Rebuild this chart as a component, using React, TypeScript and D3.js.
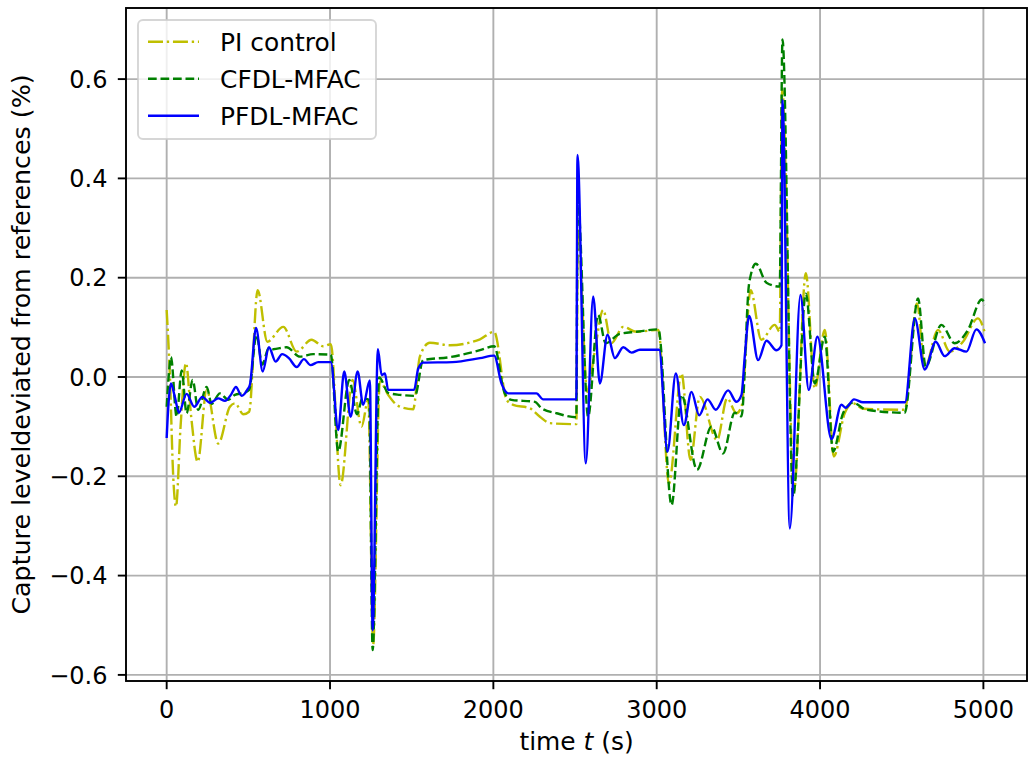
import React from "react";
import * as d3 from "d3";

const xTicks = [0, 1000, 2000, 3000, 4000, 5000];
const yTicks = [-0.6, -0.4, -0.2, 0.0, 0.2, 0.4, 0.6];
const seriesNames = ["PI control", "CFDL-MFAC", "PFDL-MFAC"];

const piControl: [number, number][] = [
  [0, 0.135], [20, 0.0], [40, -0.2], [57, -0.261], [85, -0.1], [118, 0.028], [150, -0.08],
  [190, -0.171], [245, -0.026], [316, -0.134], [387, -0.06], [418, -0.053], [470, -0.075],
  [505, -0.07], [557, 0.175], [616, 0.071], [714, 0.101], [796, 0.051], [887, 0.075],
  [958, 0.062], [1005, 0.066], [1065, -0.218], [1138, -0.006], [1193, -0.1], [1234, -0.046],
  [1264, -0.54], [1305, -0.009], [1356, -0.036], [1417, -0.058], [1509, -0.065], [1550, 0.041],
  [1611, 0.069], [1734, 0.064], [1918, 0.076], [2005, 0.091], [2081, -0.046], [2121, -0.056],
  [2223, -0.063], [2285, -0.08], [2346, -0.093], [2508, -0.095], [2517, 0.3], [2575, -0.03],
  [2620, 0.05], [2672, 0.135], [2723, 0.068], [2795, 0.101], [2876, 0.091], [3010, 0.095],
  [3075, -0.215], [3152, 0.007], [3207, -0.167], [3264, -0.04], [3370, -0.127], [3431, -0.043],
  [3488, -0.073], [3519, -0.06], [3575, 0.175], [3640, 0.075], [3723, 0.105], [3753, 0.091],
  [3768, 0.58], [3840, -0.23], [3913, 0.209], [3968, -0.023], [4029, 0.095], [4084, -0.16],
  [4151, -0.073], [4202, -0.053], [4263, -0.064], [4518, -0.066], [4594, 0.148], [4641, 0.018],
  [4722, 0.095], [4794, 0.051], [4875, 0.071], [4967, 0.118], [5010, 0.088],
];

const cfdlMfac: [number, number][] = [
  [0, -0.06], [12, 0.0], [26, 0.04], [61, -0.08], [92, 0.013], [122, -0.073], [159, -0.006],
  [193, -0.066], [245, -0.02], [275, -0.054], [326, -0.033], [377, -0.046], [418, -0.036],
  [469, -0.032], [505, -0.026], [550, 0.085], [585, 0.025], [625, 0.058], [652, 0.056],
  [734, 0.06], [816, 0.041], [897, 0.046], [1005, 0.045], [1050, -0.15], [1118, -0.006],
  [1165, -0.075], [1199, -0.043], [1240, -0.046], [1261, -0.55], [1301, -0.001], [1356, -0.032],
  [1428, -0.036], [1520, -0.038], [1570, 0.034], [1734, 0.04], [1918, 0.054], [2005, 0.062],
  [2070, -0.033], [2111, -0.046], [2254, -0.05], [2295, -0.063], [2387, -0.073], [2508, -0.081],
  [2516, 0.36], [2580, -0.08], [2641, 0.125], [2688, 0.068], [2774, 0.087], [2876, 0.091],
  [3010, 0.096], [3091, -0.258], [3152, -0.036], [3247, -0.187], [3335, -0.1], [3406, -0.154],
  [3478, -0.072], [3519, -0.079], [3566, 0.189], [3607, 0.228], [3672, 0.19], [3753, 0.182],
  [3770, 0.68], [3835, -0.241], [3913, 0.168], [3968, -0.013], [4029, 0.081], [4080, -0.15],
  [4141, -0.073], [4202, -0.052], [4284, -0.066], [4518, -0.072], [4600, 0.158], [4647, 0.021],
  [4743, 0.105], [4824, 0.068], [4906, 0.095], [4990, 0.156], [5010, 0.145],
];

const pfdlMfac: [number, number][] = [
  [0, -0.123], [10, -0.06], [26, -0.013], [50, -0.04], [75, -0.072], [122, -0.034], [169, -0.06],
  [218, -0.04], [265, -0.052], [316, -0.043], [357, -0.048], [395, -0.035], [424, -0.02],
  [459, -0.038], [495, -0.025], [510, -0.015], [547, 0.099], [588, 0.011], [626, 0.06],
  [667, 0.031], [707, 0.046], [748, 0.038], [796, 0.02], [840, 0.036], [881, 0.024], [928, 0.03],
  [1005, 0.03], [1050, -0.107], [1087, 0.011], [1126, -0.08], [1169, 0.011], [1203, -0.056],
  [1244, -0.007], [1261, -0.51], [1293, 0.056], [1316, 0.004], [1336, 0.007], [1356, -0.026],
  [1515, -0.026], [1540, 0.017], [1570, 0.029], [1750, 0.03], [1918, 0.038], [2005, 0.043],
  [2050, -0.013], [2091, -0.033], [2264, -0.033], [2305, -0.045], [2508, -0.045], [2515, 0.447],
  [2566, -0.174], [2611, 0.162], [2652, -0.013], [2699, 0.085], [2744, 0.038], [2795, 0.06],
  [2846, 0.049], [2897, 0.055], [3015, 0.055], [3066, -0.15], [3117, 0.007], [3166, -0.097],
  [3213, -0.03], [3260, -0.077], [3311, -0.045], [3362, -0.066], [3437, -0.027], [3488, -0.05],
  [3519, -0.036], [3539, 0.041], [3566, 0.123], [3621, 0.034], [3672, 0.073], [3733, 0.054],
  [3764, 0.064], [3770, 0.558], [3815, -0.305], [3880, 0.165], [3931, -0.026], [3984, 0.081],
  [4070, -0.125], [4131, -0.056], [4157, -0.062], [4208, -0.045], [4263, -0.051], [4520, -0.051],
  [4580, 0.118], [4641, 0.015], [4708, 0.071], [4763, 0.042], [4824, 0.058], [4896, 0.051],
  [4957, 0.096], [5010, 0.068],
];

const W = 1028;
const H = 758;
const left = 126;
const right = 1027;
const top = 8;
const bottom = 681;
const FONT = "'DejaVu Sans', sans-serif";
const FS_TICK = 24;
const FS_TEXT = 24.9;
const FS_YLABEL = 25.3;

export default function App() {
  const x = d3.scaleLinear().domain([-249, 5267]).range([left, right]);
  const y = d3.scaleLinear().domain([-0.6123, 0.7432]).range([bottom, top]);
  const line = d3
    .line<[number, number]>()
    .x((d) => x(d[0]))
    .y((d) => y(d[1]))
    .curve(d3.curveMonotoneX);

  const styles = [
    { data: piControl, color: "#bfbf00", dash: "15,3.8,2.35,3.8" },
    { data: cfdlMfac, color: "#008000", dash: "8.7,3.8" },
    { data: pfdlMfac, color: "#0000ff", dash: "none" },
  ];
  const fmt = (v: number) => (v < 0 ? "\u2212" : "") + Math.abs(v).toFixed(1);

  return (
    <svg
      width={W}
      height={H}
      style={{ position: "absolute", left: 0, top: 0, background: "#fff" }}
      fontFamily={FONT}
    >
      <defs>
        <clipPath id="plotclip">
          <rect x={left} y={top} width={right - left} height={bottom - top} />
        </clipPath>
      </defs>
      <rect x={0} y={0} width={W} height={H} fill="#fff" />
      {/* grid */}
      {xTicks.map((t) => (
        <line key={"gx" + t} x1={x(t)} x2={x(t)} y1={top} y2={bottom} stroke="#b0b0b0" strokeWidth={1.9} />
      ))}
      {yTicks.map((t) => (
        <line key={"gy" + t} x1={left} x2={right} y1={y(t)} y2={y(t)} stroke="#b0b0b0" strokeWidth={1.9} />
      ))}
      {/* series */}
      <g clipPath="url(#plotclip)">
        {styles.map((s, i) => (
          <path
            key={i}
            d={line(s.data) || ""}
            fill="none"
            stroke={s.color}
            strokeWidth={2.4}
            strokeDasharray={s.dash}
            strokeLinejoin="round"
          />
        ))}
      </g>
      {/* spines */}
      <rect x={left} y={top} width={right - left} height={bottom - top} fill="none" stroke="#000" strokeWidth={1.9} />
      {/* x ticks */}
      {xTicks.map((t) => (
        <g key={"tx" + t}>
          <line x1={x(t)} x2={x(t)} y1={bottom} y2={bottom + 8.2} stroke="#000" strokeWidth={1.9} />
          <text x={x(t)} y={bottom + 36.5} textAnchor="middle" fontSize={FS_TICK} fill="#000">
            {t}
          </text>
        </g>
      ))}
      {/* y ticks */}
      {yTicks.map((t) => (
        <g key={"ty" + t}>
          <line x1={left - 8.2} x2={left} y1={y(t)} y2={y(t)} stroke="#000" strokeWidth={1.9} />
          <text x={left - 18.5} y={y(t)} dy="0.36em" textAnchor="end" fontSize={FS_TICK} fill="#000">
            {fmt(t)}
          </text>
        </g>
      ))}
      {/* axis labels */}
      <text x={(left + right) / 2} y={750} textAnchor="middle" fontSize={FS_TEXT} fill="#000">
        time <tspan fontStyle="italic">t</tspan> (s)
      </text>
      <text
        transform={`translate(30, ${(top + bottom) / 2}) rotate(-90)`}
        textAnchor="middle"
        fontSize={FS_YLABEL}
        fill="#000"
      >
        Capture leveldeviated from references (%)
      </text>
      {/* legend */}
      <g>
        <rect x={138} y={20} width={238} height={119} rx={5} ry={5} fill="#fff" fillOpacity={0.8} stroke="#cccccc" strokeOpacity={0.8} strokeWidth={1.9} />
        {styles.map((s, i) => {
          const ly = 41.7 + i * 37;
          return (
            <g key={"lg" + i}>
              <line x1={148} x2={199} y1={ly} y2={ly} stroke={s.color} strokeWidth={2.4} strokeDasharray={s.dash} />
              <text x={220} y={ly} dy="0.36em" fontSize={FS_TEXT} fill="#000">
                {seriesNames[i]}
              </text>
            </g>
          );
        })}
      </g>
    </svg>
  );
}
